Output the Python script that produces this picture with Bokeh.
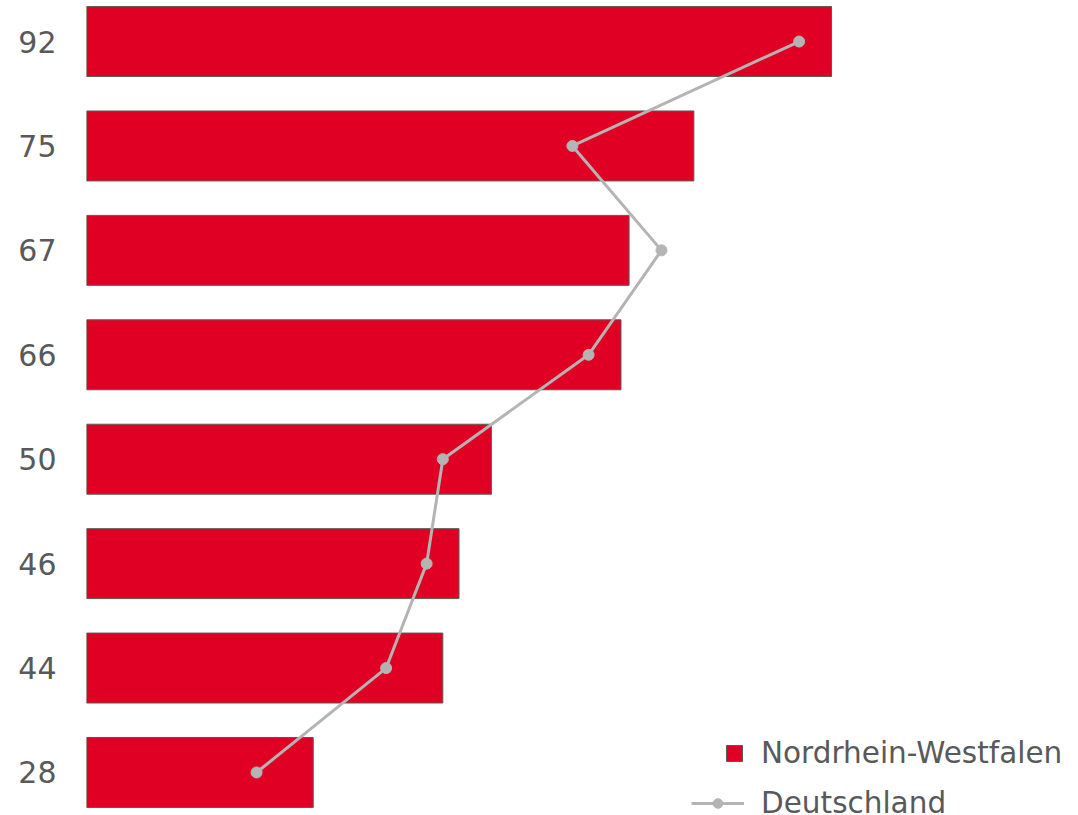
from bokeh.plotting import figure
from bokeh.models import FactorRange, Range1d, Legend, LegendItem, ColumnDataSource
from bokeh.embed import file_html
from bokeh.resources import INLINE

labels = ["92", "75", "67", "66", "50", "46", "44", "28"]
nrw = [92, 75, 67, 66, 50, 46, 44, 28]
deutschland = [88, 60, 71, 62, 44, 42, 37, 21]
series_names = ["Nordrhein-Westfalen", "Deutschland"]

src = ColumnDataSource(dict(cat=labels, nrw=nrw, de=deutschland))

p = figure(
    width=1076, height=813,
    y_range=FactorRange(factors=labels[::-1], range_padding=-0.107, range_padding_units="absolute"),
    x_range=Range1d(0, 122.25),
    x_axis_location=None,
    output_backend="svg", toolbar_location=None,
    min_border_left=86, min_border_right=0, min_border_top=0, min_border_bottom=0,
)
p.outline_line_color = None
p.grid.visible = False
p.background_fill_color = "white"
p.border_fill_color = "white"

yax = p.yaxis[0]
yax.axis_line_color = None
yax.major_tick_line_color = None
yax.minor_tick_line_color = None
yax.major_tick_out = 0
yax.major_label_standoff = 30
yax.major_label_text_font = "DejaVu Sans"
yax.major_label_text_font_size = "30px"
yax.major_label_text_color = "#595959"

bars = p.hbar(y="cat", left=0, right="nrw", height=0.67, source=src,
              fill_color="#E00024", line_color="#5a5a5a", line_width=1)
ln = p.line(x="de", y="cat", source=src, line_color="#B4B4B4", line_width=3)
pts = p.scatter(x="de", y="cat", source=src, marker="circle", size=11,
                fill_color="#B4B4B4", line_color="#B4B4B4")

common = dict(border_line_color=None, background_fill_alpha=0, padding=0, margin=0,
              label_text_font="DejaVu Sans", label_text_font_size="29.5px",
              label_text_color="#595959", label_standoff=17, label_height=30)

leg1 = Legend(items=[LegendItem(label=series_names[0], renderers=[bars])],
              location=(638, 43), glyph_width=20, glyph_height=20, **common)
leg2 = Legend(items=[LegendItem(label=series_names[1], renderers=[ln, pts])],
              location=(605, -7), glyph_width=53, glyph_height=24, **common)
p.add_layout(leg1)
p.add_layout(leg2)

open("out.html", "w").write(file_html(p, INLINE))
